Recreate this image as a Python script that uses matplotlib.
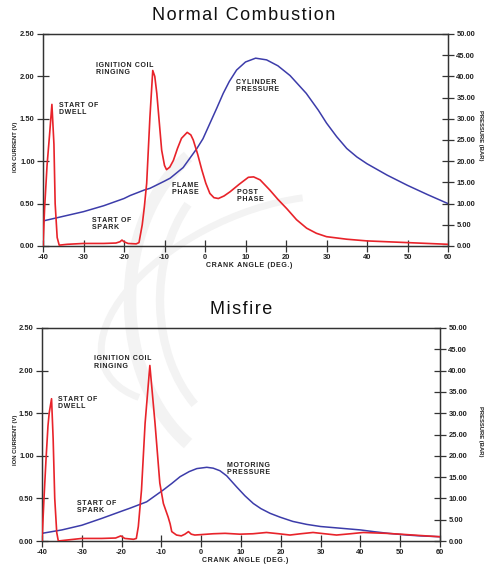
import matplotlib
matplotlib.use("Agg")
import matplotlib.pyplot as plt
from matplotlib.patches import Arc

# ---------------- data ----------------
x_ticks = [-40, -30, -20, -10, 0, 10, 20, 30, 40, 50, 60]
ion_ticks = [0.0, 0.5, 1.0, 1.5, 2.0, 2.5]
bar_ticks = [0, 5, 10, 15, 20, 25, 30, 35, 40, 45, 50]

# Normal combustion - ion current (V)
normal_ion_x = [-40, -39.6, -39.0, -38.4, -37.8, -37.3, -37.0, -36.5, -36.0, -34, -30, -25, -22, -21,
                -20.5, -20, -19, -17, -16.3, -15.5, -15.0, -14.4, -13.6, -12.9, -12.4, -11.9, -10.7,
                -10.0, -9.5, -8.7, -7.8, -6.8, -5.8, -4.4, -3.5, -2.9, -1.8, -0.8, 0.2, 1.2, 2.2, 3.3,
                4.7, 6.2, 8.5, 10.7, 12.0, 13.6, 16.0, 18.0, 20.2, 22.6, 25.1, 27.5, 30, 35, 40, 45,
                50, 55, 60]
normal_ion_v = [0.0, 0.45, 0.95, 1.3, 1.67, 1.2, 0.5, 0.1, 0.01, 0.02, 0.03, 0.03, 0.035, 0.05,
                0.07, 0.05, 0.03, 0.025, 0.04, 0.25, 0.45, 0.74, 1.52, 2.07, 2.0, 1.8, 1.13,
                0.95, 0.90, 0.93, 1.01, 1.15, 1.27, 1.34, 1.31, 1.25, 1.08, 0.90, 0.74, 0.62, 0.57, 0.56,
                0.59, 0.64, 0.73, 0.81, 0.815, 0.78, 0.66, 0.55, 0.44, 0.31, 0.21, 0.15, 0.11, 0.08, 0.06, 0.05,
                0.04, 0.03, 0.02]

# Normal combustion - cylinder pressure (bar)
normal_p_x = [-40, -35, -30, -25, -20, -18.5, -15, -13.6, -10, -8.6, -5.4, -2, -0.5, 1.2, 2.9, 4.5,
              6, 7.8, 10, 12.5, 15.2, 18, 21, 25, 28, 30, 32.5, 35, 37.5, 40, 45, 50, 55, 60]
normal_p_bar = [5.9, 7.0, 8.1, 9.5, 11.2, 11.9, 13.2, 13.6, 15.3, 16.0, 18.5, 23, 25.3, 28.9, 32.5, 36,
                38.8, 41.5, 43.4, 44.3, 43.9, 42.5, 40.2, 36.0, 32.0, 29.0, 25.8, 23.0, 21.0, 19.4,
                16.7, 14.3, 12.1, 10.0]

# Misfire - ion current (V)
misfire_ion_x = [-40, -39.5, -39, -38.5, -38.2, -37.6, -37.2, -36.8, -36.3, -35.9, -34, -30, -25, -21.5,
                 -20.2, -19.2, -17, -16.3, -15.8, -15.0, -14.1, -12.9, -11.6, -10.4, -9.5, -8.3, -7.8,
                 -7.4, -6.2, -5.0, -4.1, -3.2, -2.5, -1.6, 0, 3, 6, 9.7, 13, 16.4, 19.5, 22.3, 25,
                 28.1, 31, 34, 37.5, 40.7, 43.5, 46.5, 50, 53.2, 56.5, 60]
misfire_ion_v = [0.0, 0.5, 0.95, 1.35, 1.5, 1.67, 1.2, 0.5, 0.1, 0.0, 0.01, 0.03, 0.03, 0.035,
                 0.06, 0.03, 0.02, 0.03, 0.17, 0.6, 1.38, 2.06, 1.38, 0.68, 0.44, 0.28, 0.2,
                 0.11, 0.07, 0.06, 0.08, 0.11, 0.08, 0.07, 0.075, 0.085, 0.09, 0.08, 0.085, 0.1, 0.085, 0.07, 0.085,
                 0.1, 0.085, 0.07, 0.085, 0.1, 0.095, 0.09, 0.08, 0.07, 0.06, 0.05]

# Misfire - motoring pressure (bar)
misfire_p_x = [-40, -35, -30, -25, -20, -17.9, -13.7, -9.5, -7.4, -5.3, -3, -1.1, 1.4, 3, 4.7, 6.4,
               8.9, 11, 13.1, 15, 17.3, 19.8, 23, 26.5, 30, 35, 40, 43.3, 47, 51.7, 55, 60]
misfire_p_bar = [1.8, 2.6, 3.7, 5.3, 7.0, 7.7, 9.2, 12.0, 13.5, 15.1, 16.3, 17.0, 17.3, 17.1, 16.5, 15.3,
                 12.7, 10.6, 8.8, 7.6, 6.5, 5.6, 4.6, 3.9, 3.4, 3.0, 2.6, 2.2, 1.8, 1.4, 1.2, 1.0]

RED = "#e8232a"
BLUE = "#3c3caa"
AXC = "#333333"
TXT = "#222222"

W, H = 485, 565
fig = plt.figure(figsize=(W / 100, H / 100), dpi=100)
fig.patch.set_facecolor("white")

# very faint watermark swooshes (background)
wm = fig.add_axes([0, 0, 1, 1], zorder=-5)
wm.set_xlim(0, W)
wm.set_ylim(H, 0)
wm.axis("off")
for (cx, cy, w, h, a, t1, t2, lw) in [
    (255, 300, 250, 340, 0, 115, 245, 9),
    (255, 300, 190, 270, 0, 120, 235, 6),
    (255, 300, 330, 170, -25, 165, 320, 5),
]:
    wm.add_patch(Arc((cx, cy), w, h, angle=a, theta1=t1, theta2=t2, color="#f3f3f3", lw=lw))


def fx(px):
    return px / W


def fy(py):
    return 1 - py / H


def spaced(s, sep="\u200a"):
    return "\n".join(sep.join(list(line)) for line in s.split("\n"))


def make_panel(rect, ion_x, ion_v, p_x, p_bar, title, title_xy, ylab_y, rlab_y, xlab_xy, notes):
    l, t, r, b = rect
    ax = fig.add_axes([fx(l), fy(b), fx(r) - fx(l), fy(t) - fy(b)])
    ax2 = ax.twinx()
    ax.set_zorder(2)
    ax.patch.set_visible(False)
    ax2.patch.set_visible(False)

    ax.plot(ion_x, ion_v, color=RED, lw=1.2, zorder=3)
    ax2.plot(p_x, p_bar, color=BLUE, lw=1.1, zorder=2)

    ax.set_xlim(-40, 60)
    ax.set_ylim(0, 2.5)
    ax2.set_ylim(0, 50)
    ax.set_xticks(x_ticks)
    ax.set_xticklabels([str(v) for v in x_ticks])
    ax.set_yticks(ion_ticks)
    ax.set_yticklabels(["%.2f" % v for v in ion_ticks])
    ax2.set_yticks(bar_ticks)
    ax2.set_yticklabels(["%.2f" % v for v in bar_ticks])

    for a in (ax, ax2):
        for s in a.spines.values():
            s.set_color(AXC)
            s.set_linewidth(0.9)
        a.tick_params(direction="inout", length=8, width=0.9, color=AXC, labelsize=5.4,
                      labelcolor=TXT, pad=2)
        for lab in a.get_xticklabels() + a.get_yticklabels():
            lab.set_fontweight("bold")
            lab.set_family("Liberation Sans")
    ax.tick_params(axis="x", pad=2)

    for (x, y, s) in notes:
        ax.text(x, y, spaced(s), fontsize=5.0, fontweight="bold", family="Liberation Sans",
                color=TXT, ha="left", va="top", linespacing=1.05, zorder=5)

    fig.text(fx(title_xy[0]), fy(title_xy[1]), spaced(title), fontsize=13, family="Liberation Sans",
             ha="center", va="center", color="#111111")
    fig.text(fx(16), fy(ylab_y), "ION CURRENT (V)", rotation=90, fontsize=4.2, fontweight="bold",
             family="Liberation Sans", ha="center", va="center", color=TXT)
    fig.text(fx(481), fy(rlab_y), "PRESSURE (BAR)", rotation=-90, fontsize=4.2, fontweight="bold",
             family="Liberation Sans", ha="center", va="center", color=TXT)
    fig.text(fx(xlab_xy[0]), fy(xlab_xy[1]), spaced("CRANK ANGLE (DEG.)"), fontsize=5.0,
             fontweight="bold", family="Liberation Sans", ha="center", va="center", color=TXT)
    return ax


make_panel((43, 34, 448, 246), normal_ion_x, normal_ion_v, normal_p_x, normal_p_bar,
           "Normal Combustion", (244, 16), 147, 135, (249, 265),
           [(-27, 2.17, "IGNITION COIL\nRINGING"),
            (-36, 1.70, "START OF\nDWELL"),
            (7.7, 1.97, "CYLINDER\nPRESSURE"),
            (-27.8, 0.34, "START OF\nSPARK"),
            (-8.2, 0.76, "FLAME\nPHASE"),
            (7.8, 0.67, "POST\nPHASE")])

make_panel((42, 328, 440, 541), misfire_ion_x, misfire_ion_v, misfire_p_x, misfire_p_bar,
           "Misfire", (241, 310), 440, 431, (245, 560),
           [(-26.9, 2.18, "IGNITION COIL\nRINGING"),
            (-35.9, 1.70, "START OF\nDWELL"),
            (-31.1, 0.48, "START OF\nSPARK"),
            (6.4, 0.93, "MOTORING\nPRESSURE")])

fig.savefig("out.png", dpi=100, facecolor="white")
